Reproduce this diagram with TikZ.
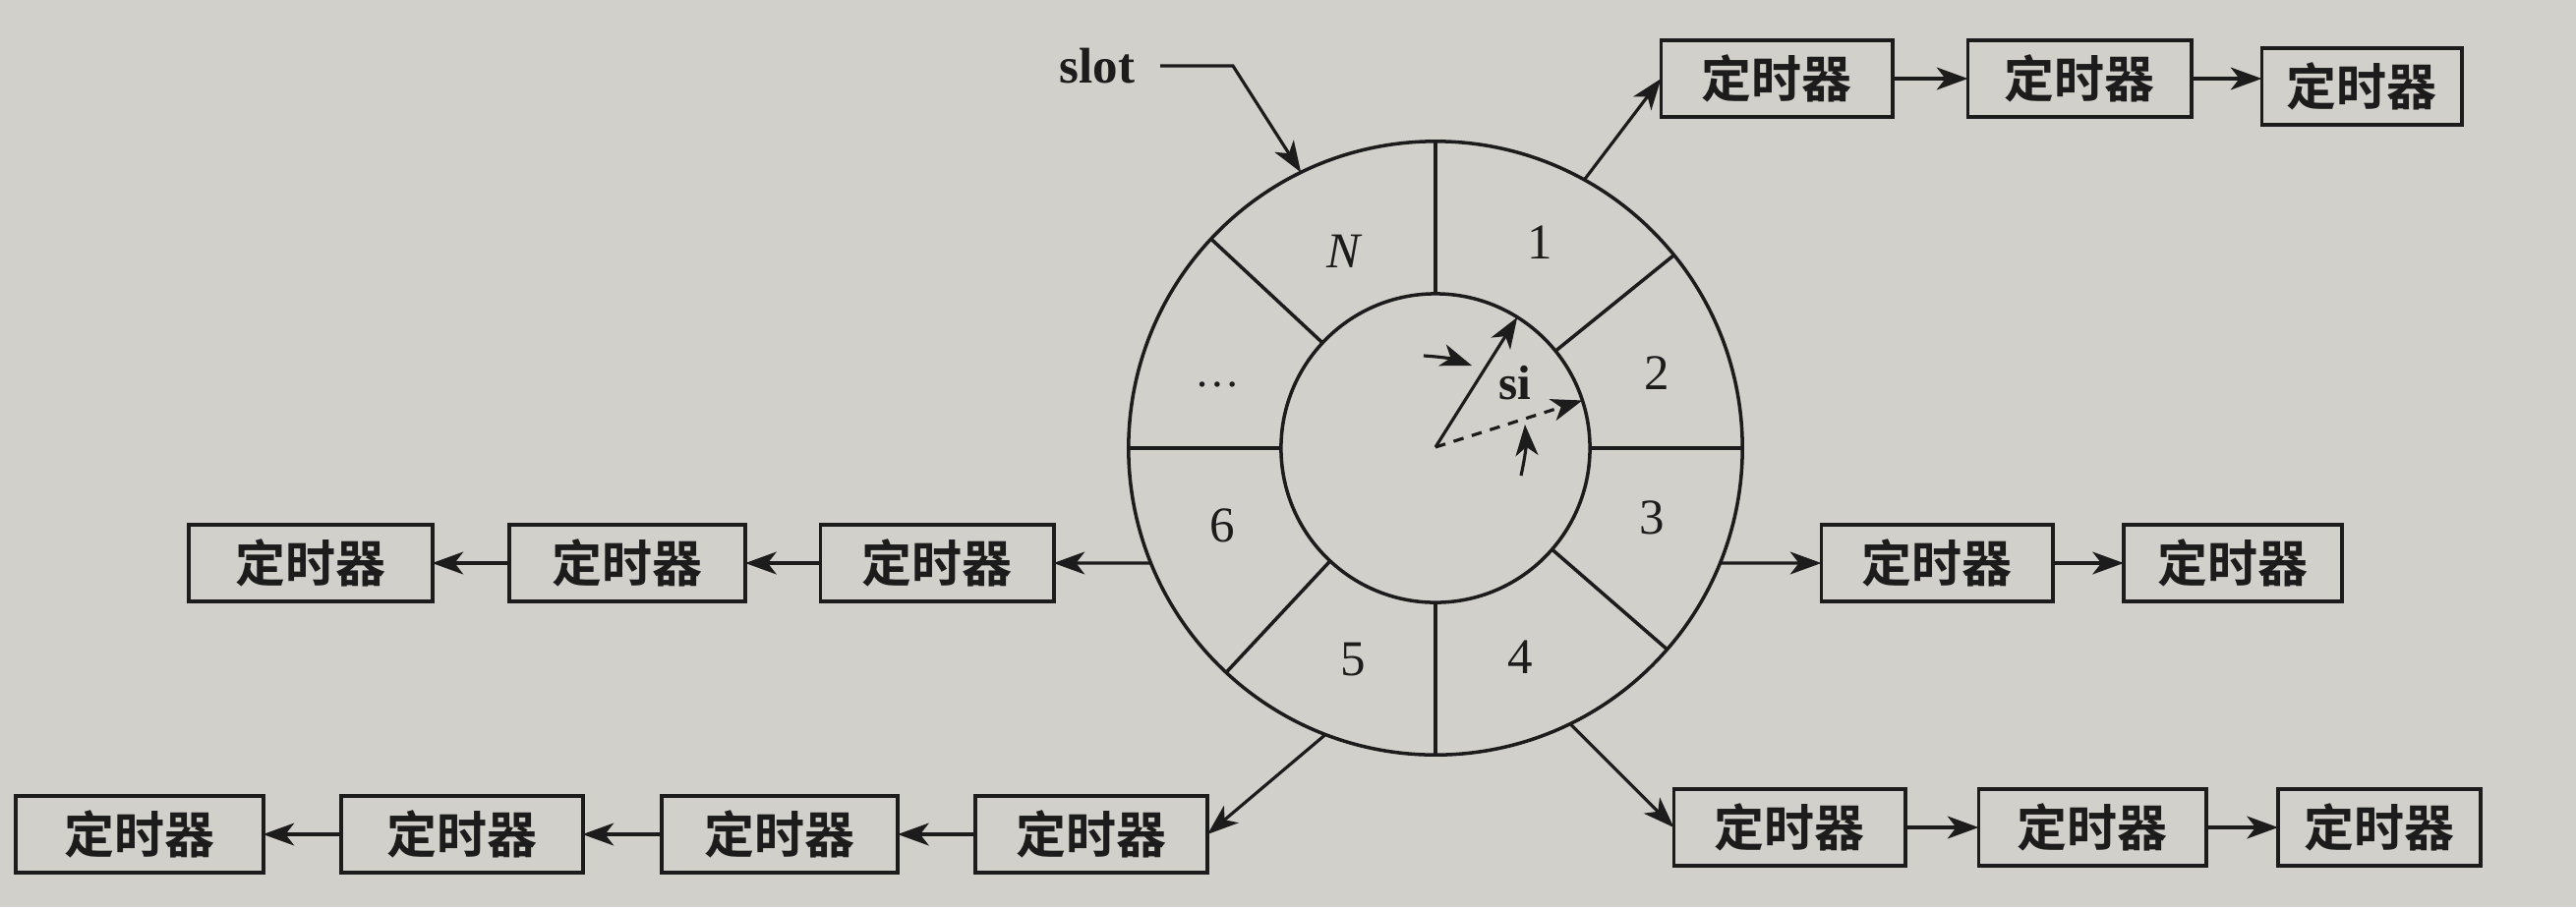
\documentclass[tikz,border=0pt]{standalone}
\usepackage{fontspec}
\setmainfont{Liberation Serif}
\newfontfamily\cjk{Noto Sans CJK SC Bold}
\usetikzlibrary{arrows.meta}
\definecolor{paper}{RGB}{210,208,202}
\definecolor{ink}{RGB}{28,28,28}
\begin{document}
\begin{tikzpicture}[x=0.01cm,y=-0.01cm,color=ink,line width=1pt,
  timer/.style={draw=ink,line width=1.1pt,minimum height=0.78cm,inner sep=0pt,outer sep=0pt,
    font=\cjk\fontsize{14.5}{16}\selectfont,text=ink},
  lab/.style={font=\fontsize{14.5}{16}\selectfont,text=ink,inner sep=0pt},
  arr/.style={draw=ink,line width=0.9pt,-{Stealth[length=9pt,width=6.5pt,inset=2.5pt]}},
  ringc/.style={circle,draw=ink,line width=1pt,inner sep=0pt,outer sep=0pt}]
\useasboundingbox (0,0) rectangle (2620,923);
\fill[paper] (0,0) rectangle (2620,923);

% wheel
\node[ringc,minimum size=6.24cm] (ring) at (1460,456) {};
\node[ringc,minimum size=3.14cm] (hub) at (1460,456) {};
\foreach \a in {0,39,90,137,180,227,270,319}
  \draw (hub.\a) -- (ring.\a);

% slot labels
\node[lab] (lN) at (1368,256) {\textit{N}};
\node[lab] (l1) at (1566,247) {1};
\node[lab] (l2) at (1685,380) {2};
\node[lab,font=\fontsize{13}{14}\selectfont] (ldots) at (1238,391) {\dots};
\node[lab] (l6) at (1243,535) {6};
\node[lab] (l3) at (1680,527) {3};
\node[lab] (l5) at (1376,671) {5};
\node[lab] (l4) at (1546,669) {4};

% pointer
\coordinate (pc) at (1460,455);
\draw[arr] (pc) -- (hub.58);
\draw[arr,dash pattern=on 3pt off 2.5pt] (pc) -- (hub.18);
\node[lab,font=\bfseries\fontsize{14}{16}\selectfont] (si) at (1541,390) {si};
\coordinate (a1s) at (1448,362); \coordinate (a1e) at (1497,372);
\draw[arr] (a1s) to[bend left=8] (a1e);
\coordinate (a2s) at (1547,484); \coordinate (a2e) at (1551,432);
\draw[arr] (a2s) to[bend right=8] (a2e);

% slot pointer
\node[lab,font=\bfseries\fontsize{14.5}{16}\selectfont] (slot) at (1116,67) {slot};
\coordinate (sb) at (1254,67);
\draw[arr] ([xshift=0.24cm]slot.east) -- (sb) -- (ring.116);

% timers top right
\node[timer,minimum width=2.35cm] (T1) at (1807,80) {定时器};
\node[timer,minimum width=2.27cm] (T2) at (2115,80) {定时器};
\node[timer,minimum width=2.03cm] (T3) at (2402,88) {定时器};
\draw[arr] (ring.61) -- (T1.west);
\draw[arr] (T1.east) -- (T2.west);
\draw[arr] (T2.east) -- (T2.east -| T3.west);

% timers right middle
\node[timer,minimum width=2.35cm] (R1) at (1970,573) {定时器};
\node[timer,minimum width=2.22cm] (R2) at (2271,573) {定时器};
\draw[arr] (ring.-22) -- (R1.west);
\draw[arr] (R1.east) -- (R2.west);

% timers bottom right
\node[timer,minimum width=2.35cm] (B1) at (1820,842) {定时器};
\node[timer,minimum width=2.31cm] (B2) at (2128,842) {定时器};
\node[timer,minimum width=2.06cm] (B3) at (2420,842) {定时器};
\draw[arr] (ring.-64) -- (B1.west);
\draw[arr] (B1.east) -- (B2.west);
\draw[arr] (B2.east) -- (B3.west);

% timers left middle
\node[timer,minimum width=2.37cm] (L1) at (953,573) {定时器};
\node[timer,minimum width=2.40cm] (L2) at (638,573) {定时器};
\node[timer,minimum width=2.47cm] (L3) at (316,573) {定时器};
\draw[arr] (ring.202) -- (L1.east);
\draw[arr] (L1.west) -- (L2.east);
\draw[arr] (L2.west) -- (L3.east);

% timers bottom left
\node[timer,minimum width=2.36cm] (D1) at (1110,849) {定时器};
\node[timer,minimum width=2.40cm] (D2) at (793,849) {定时器};
\node[timer,minimum width=2.45cm] (D3) at (470,849) {定时器};
\node[timer,minimum width=2.51cm] (D4) at (142,849) {定时器};
\draw[arr] (ring.-111) -- (D1.east);
\draw[arr] (D1.west) -- (D2.east);
\draw[arr] (D2.west) -- (D3.east);
\draw[arr] (D3.west) -- (D4.east);
\end{tikzpicture}
\end{document}
